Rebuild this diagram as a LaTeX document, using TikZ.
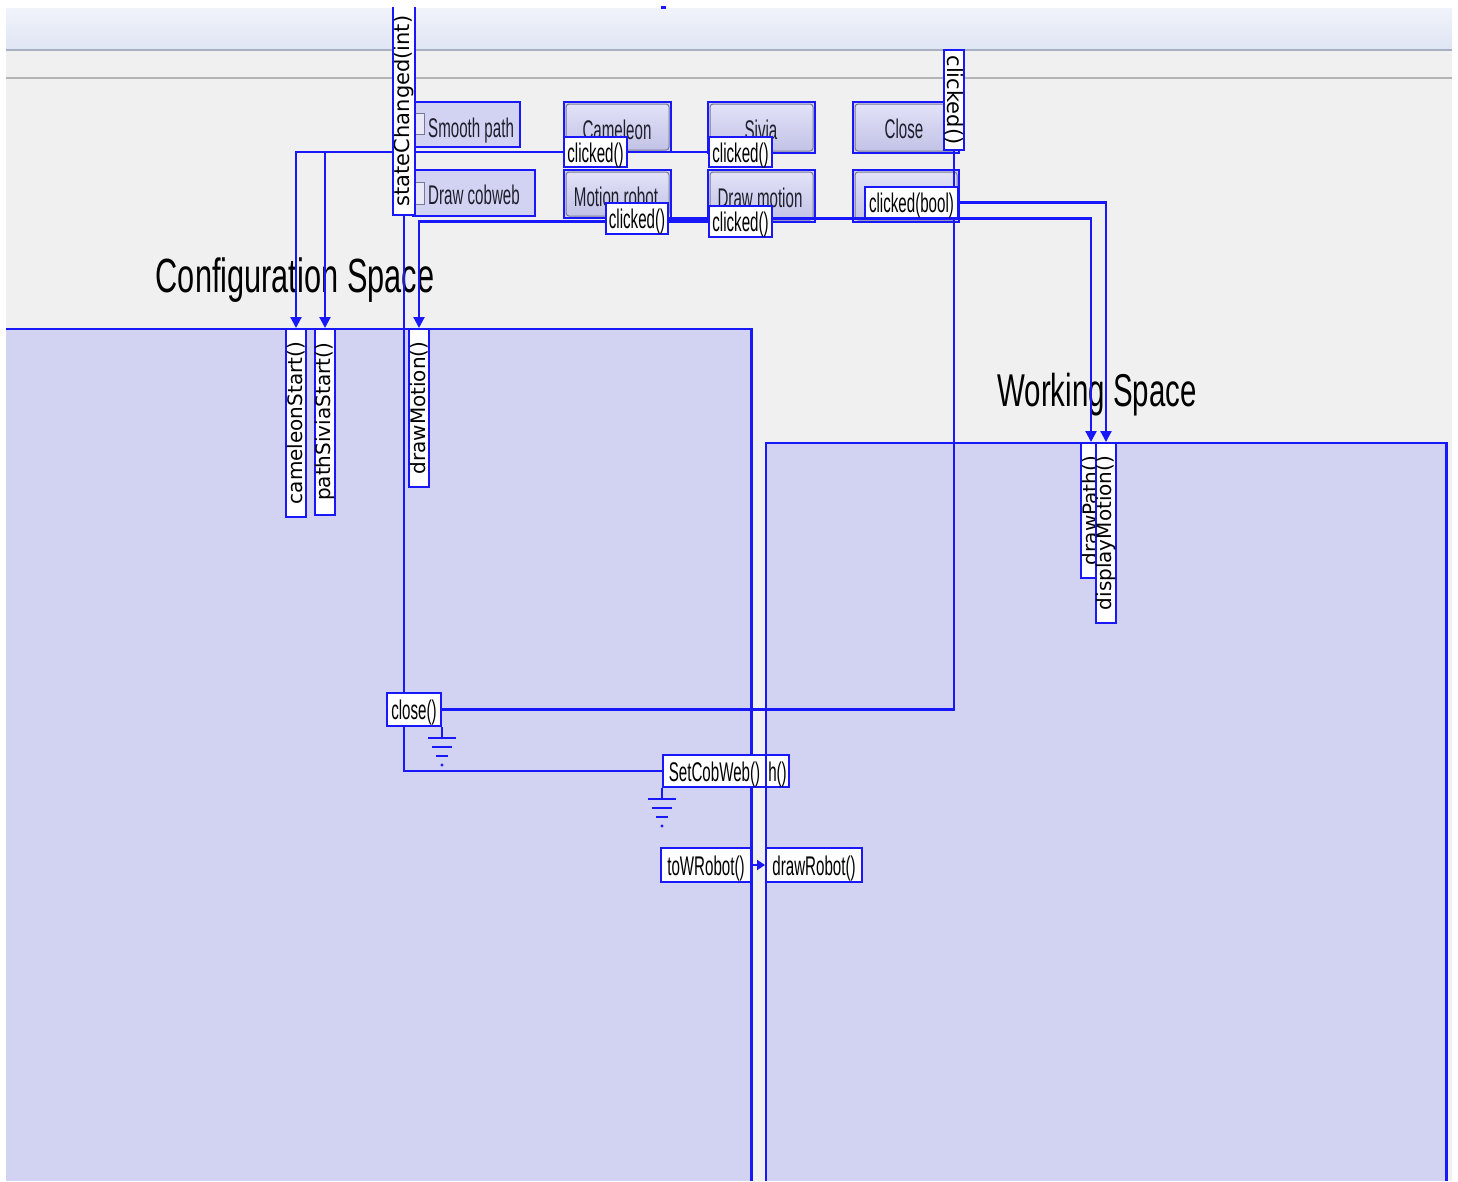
\documentclass[tikz,border=0pt]{standalone}
\usepackage{fontspec}
\usepackage{graphicx}
\setmainfont{Liberation Sans}
\newfontfamily\nf[FakeStretch=0.56]{Liberation Sans}
\newfontfamily\tf[FakeStretch=0.64]{Liberation Sans}
\newfontfamily\vf{DejaVu Sans}
\usetikzlibrary{arrows.meta,calc}
\pgfdeclarelayer{back}
\pgfdeclarelayer{wid}
\pgfdeclarelayer{lines}
\pgfsetlayers{back,wid,lines,main}
\definecolor{qblue}{RGB}{24,24,250}
\definecolor{lav}{RGB}{210,211,242}
\definecolor{winbg}{RGB}{240,240,240}
\definecolor{tbtop}{RGB}{240,243,250}
\definecolor{tbmid}{RGB}{212,219,237}
\definecolor{tbbot}{RGB}{224,229,243}
\definecolor{btop}{RGB}{226,226,248}
\definecolor{bbot}{RGB}{194,194,230}
\definecolor{bedge}{RGB}{120,120,150}
\definecolor{btext}{RGB}{30,30,45}
\tikzset{
 wire/.style={qblue,line width=2.2pt},
 conn/.style={wire,-{Triangle[width=11pt,length=11pt]}},
 shortconn/.style={wire,-{Triangle[width=10pt,length=8pt]}},
 lblbox/.style={draw=qblue,line width=2pt,fill=white,inner sep=0pt,text=black},
 hlbl/.style={lblbox,font=\nf\fontsize{27}{27}\selectfont,text height=24pt,text depth=4pt},
 vlbl/.style={lblbox,minimum width=20pt},
 widget/.style={draw=qblue,line width=2pt,fill=lav,inner sep=0pt},
 face/.style={draw=bedge,line width=1pt,rounded corners=3pt,top color=btop,bottom color=bbot},
 btxt/.style={anchor=base,inner sep=0pt,text=btext,font=\nf\fontsize{27}{27}\selectfont},
 ttl/.style={anchor=base,inner sep=0pt,text=black},
 gnd/.pic={
   \draw[wire] (0,0)--(0,11) (-14,11)--(14,11) (-10,20)--(10,20) (-6,29)--(6,29);
   \fill[qblue] (0,38) circle[radius=1.6];
 }
}
\begin{document}
\begin{tikzpicture}[x=1pt,y=-1pt]
\useasboundingbox (0,0) rectangle (1458,1181);
\begin{pgfonlayer}{back}
 \fill[white] (0,0) rectangle (1458,1181);
 \fill[winbg] (6,8) rectangle (1452,1181);
 \shade[top color=tbtop,middle color=tbmid,bottom color=tbbot] (6,8) rectangle (1452,49);
 \fill[qblue] (661,6) rectangle (666,9);
 \draw[color={rgb,255:red,168;green,176;blue,194},line width=2pt] (6,50) -- (1452,50);
 \draw[color={rgb,255:red,180;green,180;blue,180},line width=2pt] (6,78) -- (1452,78);
 % frames
 \node[fill=lav,inner sep=0pt,minimum width=745pt,minimum height=852pt,anchor=north west] (cfg) at (6,329) {};
 \draw[wire] (cfg.north west) -- (cfg.north east) -- (cfg.south east);
 \node[fill=lav,inner sep=0pt,minimum width=680pt,minimum height=738pt,anchor=north west] (wrk) at (766,443) {};
 \draw[wire] (wrk.south west) -- (wrk.north west) -- (wrk.north east) -- (wrk.south east);
 \node[ttl,font=\tf\fontsize{48}{48}\selectfont] (cfgt) at (295,292) {Configuration Space};
 \node[ttl,font=\tf\fontsize{46}{46}\selectfont] (wrkt) at (1097,406) {Working Space};
\end{pgfonlayer}

\begin{pgfonlayer}{wid}
 % check boxes
 \node[widget,minimum width=107pt,minimum height=45pt] (sp) at (466.5,124.5) {};
 \draw[draw=bedge,fill={rgb,255:red,232;green,232;blue,246}] (414,113) rectangle (424,134);
 \node[btxt,anchor=base west] (tsp) at (428,137) {Smooth path};
 \node[widget,minimum width=122pt,minimum height=46pt] (dc) at (474,193) {};
 \draw[draw=bedge,fill={rgb,255:red,232;green,232;blue,246}] (414,182) rectangle (424,204);
 \node[btxt,anchor=base west] (tdc) at (428,204) {Draw cobweb};
 % push buttons
 \node[widget,minimum width=107pt,minimum height=50pt] (bc) at (617.5,127) {};
 \path[face] ($(bc.north west)+(3,3)$) rectangle ($(bc.south east)+(-3,-3)$);
 \node[btxt] (tbc) at (617,139) {Cameleon};
 \node[widget,minimum width=107pt,minimum height=51pt] (bs) at (761.5,127.5) {};
 \path[face] ($(bs.north west)+(3,3)$) rectangle ($(bs.south east)+(-3,-3)$);
 \node[btxt] (tbs) at (761,139) {Sivia};
 \node[widget,minimum width=106pt,minimum height=51pt] (bcl) at (906,127.5) {};
 \path[face] ($(bcl.north west)+(3,3)$) rectangle ($(bcl.south east)+(-3,-3)$);
 \node[btxt] (tbcl) at (904,138) {Close};
 \node[widget,minimum width=107pt,minimum height=48pt] (bm) at (617.5,194) {};
 \path[face] ($(bm.north west)+(3,3)$) rectangle ($(bm.south east)+(-3,-3)$);
 \node[btxt] (tbm) at (616,206) {Motion robot};
 \node[widget,minimum width=107pt,minimum height=52pt] (bd) at (761.5,196) {};
 \path[face] ($(bd.north west)+(3,3)$) rectangle ($(bd.south east)+(-3,-3)$);
 \node[btxt] (tbd) at (760,207) {Draw motion};
 \node[widget,minimum width=106pt,minimum height=52pt] (bx) at (906,196) {};
 \path[face] ($(bx.north west)+(3,3)$) rectangle ($(bx.south east)+(-3,-3)$);
\end{pgfonlayer}

% signal / slot labels
\node[vlbl,draw=none,minimum height=206pt] (sc) at (404,111)
  {\rotatebox{90}{\vf\fontsize{21}{21}\selectfont stateChanged(int)}};
\draw[qblue,line width=2pt] (sc.north west) -- (sc.south west) -- (sc.south east) -- (sc.north east);
\node[vlbl,minimum height=100pt] (ccl) at (954,100)
  {\rotatebox{-90}{\vf\fontsize{21}{21}\selectfont clicked()}};
\node[hlbl,minimum width=63pt,minimum height=30pt] (c1) at (595.5,152) {clicked()};
\node[hlbl,minimum width=63pt,minimum height=30pt] (c2) at (740.5,152) {clicked()};
\node[hlbl,minimum width=62pt,minimum height=31pt] (c3) at (637,218.5) {clicked()};
\node[hlbl,minimum width=63pt,minimum height=31pt] (c4) at (740.5,221.5) {clicked()};
\node[hlbl,minimum width=93pt,minimum height=31pt] (cb) at (911.5,202.5) {clicked(bool)};

\node[vlbl,minimum height=188pt] (csl) at (296,423)
  {\rotatebox{90}{\vf\fontsize{20}{20}\selectfont cameleonStart()}};
\node[vlbl,minimum height=186pt] (psl) at (325,422)
  {\rotatebox{90}{\vf\fontsize{20}{20}\selectfont pathSiviaStart()}};
\node[vlbl,minimum height=158pt] (dml) at (419,408)
  {\rotatebox{90}{\vf\fontsize{20}{20}\selectfont drawMotion()}};
\node[vlbl,minimum height=135pt] (dpl) at (1091,510.5)
  {\rotatebox{90}{\vf\fontsize{20}{20}\selectfont drawPath()}};
\node[vlbl,minimum height=180pt] (dspl) at (1106,533)
  {\rotatebox{90}{\vf\fontsize{20}{20}\selectfont displayMotion()}};

\node[hlbl,minimum width=54pt,minimum height=33pt] (clo) at (414,709.5) {close()};
\node[hlbl,minimum width=103pt,minimum height=32pt] (scw) at (714.5,771) {SetCobWeb()};
\node[hlbl,minimum width=23pt,minimum height=32pt] (sh) at (777.5,771) {h()};
\node[hlbl,minimum width=90pt,minimum height=34pt] (twr) at (706,865) {toWRobot()};
\node[hlbl,minimum width=96pt,minimum height=34pt] (drr) at (814,865) {drawRobot()};

\begin{pgfonlayer}{lines}
 \draw[conn] (c1.west) -| (csl.north);
 \draw[conn] (c2.west) -| (psl.north);
 \draw[conn] (c4.west) -| (dml.north);
 \draw[conn] (c3.east) -| (dpl.north);
 \draw[conn] (cb.east) -| (dspl.north);
 \draw[wire] (ccl.south) |- (clo.east);
 \draw[wire] (sc.south) |- (scw.west);
 \draw[shortconn] (twr.east) -- (drr.west);
 \pic at (clo.south east) {gnd};
 \pic at (scw.south west) {gnd};
\end{pgfonlayer}
\end{tikzpicture}
\end{document}
